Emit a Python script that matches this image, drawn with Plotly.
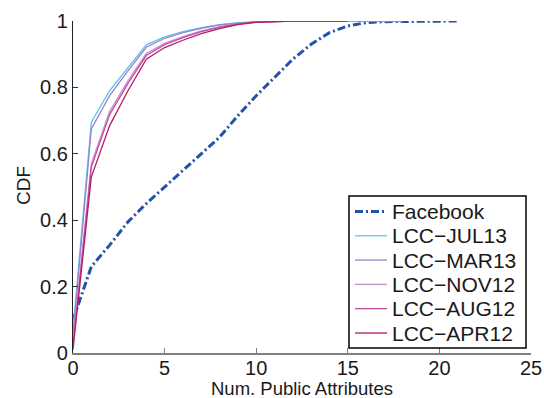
import plotly.graph_objects as go

# Number of public attributes per profile (x) and the CDF of each dataset
attrs_fb = list(range(0, 22))
cdf_facebook = [0.10, 0.26, 0.325, 0.395, 0.45, 0.50, 0.55, 0.60, 0.65, 0.715,
                0.775, 0.83, 0.885, 0.93, 0.965, 0.985, 0.995, 0.998, 0.999,
                1.0, 1.0, 1.0]

attrs_lcc = list(range(0, 19))
cdf_jul13 = [0.07, 0.695, 0.79, 0.86, 0.928, 0.952, 0.968, 0.98, 0.989, 0.995,
             0.998, 0.999, 1.0, 1.0, 1.0, 1.0, 1.0, 1.0, 1.0]
cdf_mar13 = [0.05, 0.675, 0.775, 0.85, 0.921, 0.948, 0.965, 0.978, 0.988, 0.994,
             0.998, 0.999, 1.0, 1.0, 1.0, 1.0, 1.0, 1.0, 1.0]
cdf_nov12 = [0.03, 0.57, 0.728, 0.82, 0.902, 0.933, 0.953, 0.97, 0.983, 0.992,
             0.997, 0.999, 1.0, 1.0, 1.0, 1.0, 1.0]
cdf_aug12 = [0.02, 0.56, 0.718, 0.812, 0.896, 0.929, 0.95, 0.968, 0.981, 0.991,
             0.997, 0.999, 1.0, 1.0, 1.0, 1.0]
cdf_apr12 = [0.01, 0.53, 0.685, 0.79, 0.885, 0.92, 0.942, 0.962, 0.977, 0.989,
             0.996, 0.999, 1.0, 1.0, 1.0, 1.0]

x_ticks = [0, 5, 10, 15, 20, 25]
y_ticks = [0, 0.2, 0.4, 0.6, 0.8, 1]
y_tick_text = ["0", "0.2", "0.4", "0.6", "0.8", "1"]

FB_LINE = dict(color="#2253a8", width=3, dash="8px,3px,2px,3px")
series = [
    ("LCC\u2212JUL13", cdf_jul13, "#5ec4ee"),
    ("LCC\u2212MAR13", cdf_mar13, "#9a82c9"),
    ("LCC\u2212NOV12", cdf_nov12, "#c48fd2"),
    ("LCC\u2212AUG12", cdf_aug12, "#c24c9f"),
    ("LCC\u2212APR12", cdf_apr12, "#b11d66"),
]

FAMILY = "Liberation Sans, Arial, sans-serif"
TEXT = "#1a1a1a"

W, H = 544, 398
ML, MR, MT, MB = 73, 13, 21, 45
PW, PH = W - ML - MR, H - MT - MB

fig = go.Figure()
fig.add_trace(go.Scatter(x=attrs_fb, y=cdf_facebook, mode="lines",
                         name="Facebook", line=FB_LINE, showlegend=False))
for name, vals, color in series:
    fig.add_trace(go.Scatter(x=attrs_lcc[:len(vals)], y=vals, mode="lines",
                             name=name, line=dict(color=color, width=1.3),
                             showlegend=False))


# Helpers: pixel offsets of the page -> paper coordinates
def px(xpix):
    return (xpix - ML) / PW


def py(ypix):
    return (MT + PH - ypix) / PH


# Legend box
box_l, box_t, box_r, box_b = 349, 196, 526, 348
row_top, row_step = 211.5, 24.3
fig.add_shape(type="rect", xref="paper", yref="paper",
              x0=px(box_l), x1=px(box_r), y0=py(box_b), y1=py(box_t),
              line=dict(color="black", width=1.5), fillcolor="white", layer="above")

entries = [("Facebook", FB_LINE)] + [
    (name, dict(color=color, width=1.3)) for name, _, color in series
]
for i, (label, line) in enumerate(entries):
    yc = row_top + i * row_step
    fig.add_shape(type="line", xref="paper", yref="paper",
                  x0=px(355), x1=px(387), y0=py(yc), y1=py(yc),
                  line=line, layer="above")
    fig.add_annotation(xref="paper", yref="paper", x=px(390), y=py(yc),
                       text=label, showarrow=False, xanchor="left",
                       yanchor="middle", font=dict(family=FAMILY, size=21, color=TEXT))

# Axis titles
fig.add_annotation(xref="paper", yref="paper", x=px(302), y=py(388),
                   text="Num. Public Attributes", showarrow=False,
                   xanchor="center", yanchor="middle",
                   font=dict(family=FAMILY, size=18.5, color=TEXT))
fig.add_annotation(xref="paper", yref="paper", x=px(23), y=py(186),
                   text="CDF", showarrow=False, textangle=-90,
                   xanchor="center", yanchor="middle",
                   font=dict(family=FAMILY, size=19, color=TEXT))

fig.update_layout(
    width=W, height=H,
    margin=dict(l=ML, r=MR, t=MT, b=MB),
    paper_bgcolor="white", plot_bgcolor="white",
    font=dict(family=FAMILY, size=20, color=TEXT),
    showlegend=False,
    xaxis=dict(
        range=[0, 25], tickvals=x_ticks, ticks="inside", ticklen=5,
        tickcolor="#808080", showline=True, linecolor="#808080", linewidth=1.5,
        showgrid=False, zeroline=False, automargin=False,
        tickfont=dict(size=20), ticklabelstandoff=-4,
    ),
    yaxis=dict(
        range=[0, 1], tickvals=y_ticks, ticktext=y_tick_text, ticks="inside",
        ticklen=5, tickcolor="#333333", showline=True, linecolor="#222222",
        linewidth=1.2, showgrid=False, zeroline=False, automargin=False,
        tickfont=dict(size=20), ticklabelstandoff=0,
    ),
)

fig.write_html("out.html")
